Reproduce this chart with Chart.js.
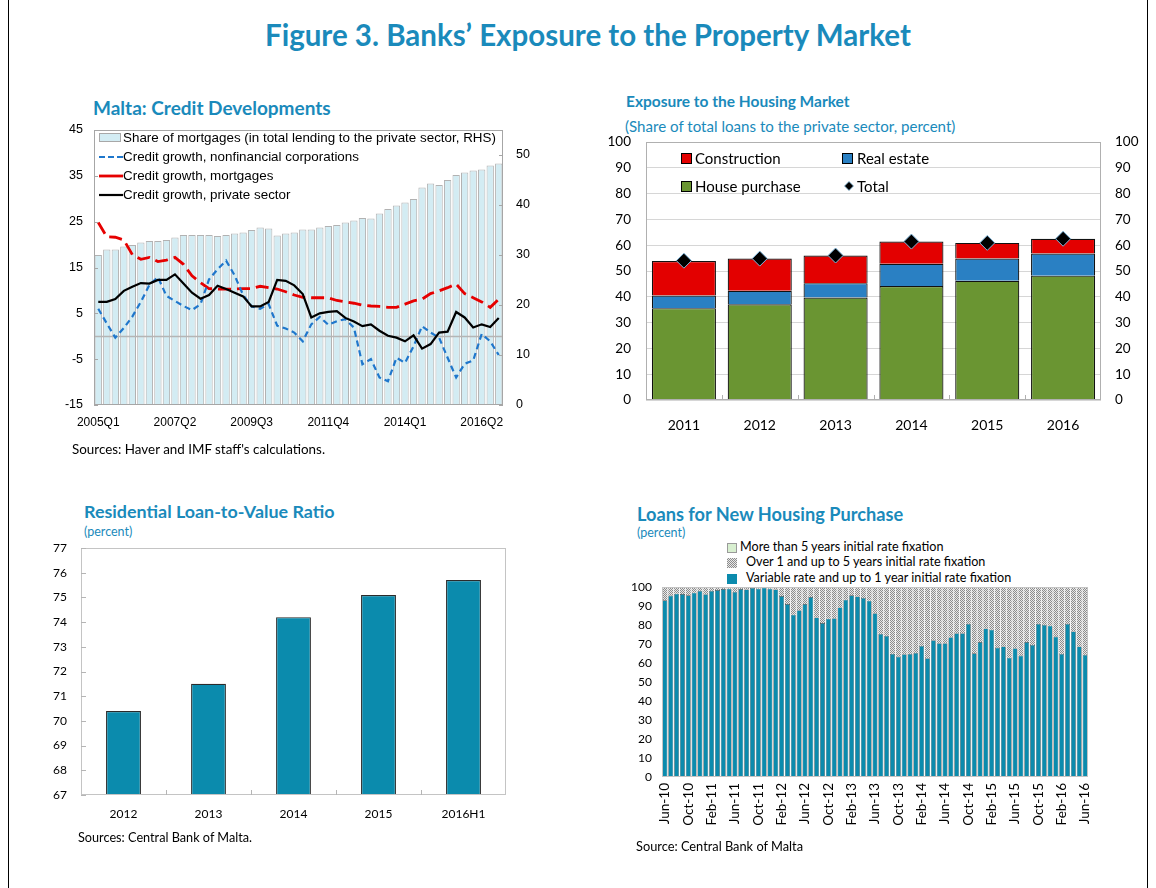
<!DOCTYPE html>
<html>
<head>
<meta charset="utf-8">
<script src="https://cdn.jsdelivr.net/npm/chart.js@4.4.1/dist/chart.umd.min.js"></script>
<style>
  html, body { margin: 0; padding: 0; background: #fff; }
  #page { position: relative; width: 1156px; height: 888px; overflow: hidden; font-family: Lato, 'Open Sans', sans-serif; color: #000; }
  .frame { position: absolute; left: 8px; top: -2px; width: 1138px; height: 900px; border-left: 1px solid #000; border-right: 1px solid #000; }
  .t { position: absolute; white-space: nowrap; line-height: 1; }
  .blue { color: #1a8abb; }
  .b { font-weight: 700; }
  canvas { position: absolute; }
  .row { position: absolute; display: flex; align-items: center; white-space: nowrap; line-height: 1; }
  .box { display: inline-block; box-sizing: border-box; }
</style>
</head>
<body>
<div id="page">
  <div class="frame"></div>

  <div class="t blue b" style="left:265px; top:20px; font-size:29.5px;">Figure 3. Banks’ Exposure to the Property Market</div>

  <!-- top left -->
  <div class="t blue b" style="left:93px; top:98px; font-size:19px;">Malta: Credit Developments</div>
  <canvas id="c1" width="495" height="342" style="left:50px; top:108px;"></canvas>
  <div style="font-family:'Liberation Sans', Arial, sans-serif; font-size:13.4px;">
    <div class="row" style="left:99px; top:130px; height:15px;">
      <span class="box" style="width:22px; height:9px; background:#d3ecf3; border:1px solid #a8a8a8; margin-right:2px;"></span>Share of mortgages (in total lending to the private sector, RHS)</div>
    <div class="row" style="left:99px; top:149px; height:15px;">
      <svg width="24" height="10"><line x1="0" y1="5" x2="24" y2="5" stroke="#1f77cc" stroke-width="2.2" stroke-dasharray="6,3"/></svg>Credit growth, nonfinancial corporations</div>
    <div class="row" style="left:99px; top:168px; height:15px;">
      <svg width="24" height="10"><line x1="0" y1="5" x2="24" y2="5" stroke="#e60000" stroke-width="2.8"/></svg>Credit growth, mortgages</div>
    <div class="row" style="left:99px; top:187px; height:15px;">
      <svg width="24" height="10"><line x1="0" y1="5" x2="24" y2="5" stroke="#000" stroke-width="2.2"/></svg>Credit growth, private sector</div>
  </div>
  <div class="t" style="left:72px; top:443px; font-size:13.4px;">Sources: Haver and IMF staff's calculations.</div>

  <!-- top right -->
  <div class="t blue b" style="left:626px; top:94px; font-size:15.5px;">Exposure to the Housing Market</div>
  <div class="t blue" style="left:625px; top:119px; font-size:15.1px;">(Share of total loans to the private sector, percent)</div>
  <canvas id="c2" width="540" height="318" style="left:600px; top:117px;"></canvas>
  <div style="font-size:15px;">
    <div class="row" style="left:681px; top:150px; height:16px;"><span class="box" style="width:11px; height:11px; background:#e30000; border:1px solid #000; margin-right:3px;"></span>Construction</div>
    <div class="row" style="left:842px; top:150px; height:16px;"><span class="box" style="width:11px; height:11px; background:#2a80c3; border:1px solid #000; margin-right:4px;"></span>Real estate</div>
    <div class="row" style="left:681px; top:178px; height:16px;"><span class="box" style="width:11px; height:11px; background:#6a9532; border:1px solid #000; margin-right:3px;"></span>House purchase</div>
    <div class="row" style="left:843px; top:178px; height:16px;"><svg width="12" height="12" style="margin-right:2px"><polygon points="6,1.5 10.5,6 6,10.5 1.5,6" fill="#000" stroke="#7fb6db" stroke-width="0.8"/></svg>Total</div>
  </div>

  <!-- bottom left -->
  <div class="t blue b" style="left:84px; top:503px; font-size:17.9px;">Residential Loan-to-Value Ratio</div>
  <div class="t blue" style="left:84px; top:526px; font-size:12.5px;">(percent)</div>
  <canvas id="c3" width="480" height="305" style="left:40px; top:525px;"></canvas>
  <div class="t" style="left:78px; top:831px; font-size:12.7px;">Sources: Central Bank of Malta.</div>

  <!-- bottom right -->
  <div class="t blue b" style="left:637px; top:505px; font-size:18.2px;">Loans for New Housing Purchase</div>
  <div class="t blue" style="left:637px; top:527px; font-size:12.5px;">(percent)</div>
  <div style="font-size:12.6px;">
    <div class="row" style="left:727px; top:541px; height:13px;"><span class="box" style="width:10px; height:10px; background:#d8efd0; border:1px solid #9a9a9a; margin-right:3px;"></span>More than 5 years initial rate fixation</div>
    <div class="row" style="left:727px; top:556px; height:13px;"><span class="box" style="width:10px; height:10px; background-image:repeating-conic-gradient(#8c8c8c 0 25%, #e8e8e8 0 50%); background-size:2px 2px; margin-right:9px;"></span>Over 1 and up to 5 years initial rate fixation</div>
    <div class="row" style="left:727px; top:572px; height:13px;"><span class="box" style="width:10px; height:10px; background:#0b8bad; margin-right:9px;"></span>Variable rate and up to 1 year initial rate fixation</div>
  </div>
  <canvas id="c4" width="505" height="272" style="left:610px; top:568px;"></canvas>
  <div class="t" style="left:636px; top:840px; font-size:12.8px;">Source: Central Bank of Malta</div>
</div>

<script>
// ─────────────────────────────────────────────
//  Data
// ─────────────────────────────────────────────

const QUARTERS = [
  '2005Q1','2005Q2','2005Q3','2005Q4','2006Q1','2006Q2','2006Q3','2006Q4',
  '2007Q1','2007Q2','2007Q3','2007Q4','2008Q1','2008Q2','2008Q3','2008Q4',
  '2009Q1','2009Q2','2009Q3','2009Q4','2010Q1','2010Q2','2010Q3','2010Q4',
  '2011Q1','2011Q2','2011Q3','2011Q4','2012Q1','2012Q2','2012Q3','2012Q4',
  '2013Q1','2013Q2','2013Q3','2013Q4','2014Q1','2014Q2','2014Q3','2014Q4',
  '2015Q1','2015Q2','2015Q3','2015Q4','2016Q1','2016Q2','2016Q3','2016Q4'
];
// RHS, percent of lending to private sector
const SHARE_MORTGAGES = [
  30.0, 31.1, 31.1, 31.7, 32.0, 32.5, 32.8, 32.8, 33.0, 33.5, 34.0, 34.0,
  34.0, 34.0, 33.8, 34.0, 34.3, 34.5, 35.0, 35.5, 35.3, 33.9, 34.3, 34.5,
  35.1, 35.1, 35.5, 35.8, 36.0, 36.5, 36.9, 37.4, 37.3, 38.3, 39.2, 39.9,
  40.5, 41.2, 43.5, 44.3, 44.0, 45.0, 46.0, 46.5, 46.9, 47.1, 47.9, 48.3
];
const NFC_GROWTH = [
  6.0, 2.8, -0.3, 1.8, 4.3, 7.5, 11.2, 12.9, 8.8, 7.7, 6.6, 5.7,
  7.0, 12.4, 14.6, 16.5, 13.3, 9.0, 6.5, 6.0, 7.0, 2.3, 1.7, 0.8,
  -1.1, 2.6, 4.2, 2.5, 3.3, 3.7, 1.9, -6.1, -5.0, -9.0, -9.8, -4.7,
  -5.8, -2.2, 2.2, 0.8, -0.3, -4.7, -9.0, -6.0, -5.3, 0.5, -1.1, -4.1
];
const MORTGAGE_GROWTH = [
  24.8, 21.7, 21.6, 21.0, 17.8, 16.8, 17.2, 16.3, 16.6, 17.2, 15.7, 13.2,
  11.7, 10.4, 10.3, 10.3, 10.3, 10.4, 10.4, 10.9, 10.6, 10.3, 9.7, 9.0,
  8.5, 8.4, 8.4, 8.4, 7.8, 7.5, 7.2, 6.8, 6.6, 6.5, 6.3, 6.3,
  7.0, 7.7, 8.1, 9.3, 9.9, 10.6, 11.4, 9.3, 8.4, 7.5, 6.3, 8.1
];
const PRIVATE_GROWTH = [
  7.5, 7.5, 8.1, 9.9, 10.8, 11.6, 11.5, 12.3, 12.3, 13.5, 11.5, 9.5,
  8.2, 9.0, 11.0, 10.3, 9.5, 8.7, 6.5, 6.5, 7.5, 12.3, 12.1, 11.1,
  9.2, 4.1, 5.0, 5.3, 5.5, 4.0, 3.2, 2.2, 2.6, 1.2, 0.1, -0.3,
  -1.1, 0.2, -2.7, -1.7, 0.8, 1.0, 5.3, 4.1, 1.9, 2.6, 2.0, 4.0
];

const YEARS        = ['2011', '2012', '2013', '2014', '2015', '2016'];
const HOUSE        = [35.6, 37.1, 39.7, 44.2, 46.2, 48.2];
const REAL_ESTATE  = [4.9, 5.2, 5.6, 8.6, 8.6, 8.6];
const CONSTRUCTION = [13.4, 12.5, 10.7, 8.6, 6.1, 5.7];
const TOTAL        = [54.0, 54.8, 56.0, 61.4, 60.9, 62.5];

const LTV_LABELS = ['2012', '2013', '2014', '2015', '2016H1'];
const LTV        = [70.4, 71.5, 74.2, 75.1, 75.7];

const MONTHS = [
  'Jun-10','Jul-10','Aug-10','Sep-10','Oct-10','Nov-10','Dec-10','Jan-11','Feb-11','Mar-11','Apr-11','May-11',
  'Jun-11','Jul-11','Aug-11','Sep-11','Oct-11','Nov-11','Dec-11','Jan-12','Feb-12','Mar-12','Apr-12','May-12',
  'Jun-12','Jul-12','Aug-12','Sep-12','Oct-12','Nov-12','Dec-12','Jan-13','Feb-13','Mar-13','Apr-13','May-13',
  'Jun-13','Jul-13','Aug-13','Sep-13','Oct-13','Nov-13','Dec-13','Jan-14','Feb-14','Mar-14','Apr-14','May-14',
  'Jun-14','Jul-14','Aug-14','Sep-14','Oct-14','Nov-14','Dec-14','Jan-15','Feb-15','Mar-15','Apr-15','May-15',
  'Jun-15','Jul-15','Aug-15','Sep-15','Oct-15','Nov-15','Dec-15','Jan-16','Feb-16','Mar-16','Apr-16','May-16',
  'Jun-16'
];
const VARIABLE = [
  93.0, 95.5, 96.5, 96.3, 95.6, 97.0, 98.0, 96.2, 98.0, 98.4, 98.9, 99.1,
  97.4, 98.9, 98.7, 99.5, 99.1, 99.7, 99.1, 98.7, 95.2, 91.0, 85.4, 87.8,
  91.0, 94.7, 84.0, 81.0, 83.3, 83.6, 89.2, 93.3, 95.6, 95.0, 94.2, 92.8,
  86.2, 75.3, 74.3, 64.8, 63.4, 64.6, 64.8, 65.3, 69.0, 62.5, 72.0, 70.4,
  70.4, 73.6, 75.7, 75.7, 80.6, 65.1, 71.0, 78.2, 77.5, 68.1, 68.7, 62.8,
  67.8, 63.9, 71.0, 69.5, 80.6, 80.1, 79.6, 73.9, 64.8, 80.6, 76.6, 68.7,
  64.3
];
const OVER_1_TO_5 = [
  6.7, 4.2, 3.2, 3.4, 4.1, 2.7, 1.7, 3.5, 1.7, 1.3, 0.8, 0.6,
  2.3, 0.8, 1.0, 0.2, 0.6, 0.0, 0.6, 1.0, 4.5, 8.7, 14.3, 11.9,
  8.7, 5.0, 15.7, 18.7, 16.4, 16.1, 10.5, 6.4, 4.1, 4.7, 5.5, 6.9,
  13.5, 24.4, 25.4, 34.9, 36.3, 35.1, 34.9, 34.4, 30.7, 37.2, 27.7, 29.3,
  29.3, 26.1, 24.0, 24.0, 19.1, 34.6, 28.7, 21.5, 22.2, 31.6, 31.0, 36.9,
  31.9, 35.8, 28.7, 30.2, 19.1, 19.6, 20.1, 25.8, 34.9, 19.1, 23.1, 31.0,
  35.4
];
const MORE_THAN_5 = [
  0.3, 0.3, 0.3, 0.3, 0.3, 0.3, 0.3, 0.3, 0.3, 0.3, 0.3, 0.3,
  0.3, 0.3, 0.3, 0.3, 0.3, 0.3, 0.3, 0.3, 0.3, 0.3, 0.3, 0.3,
  0.3, 0.3, 0.3, 0.3, 0.3, 0.3, 0.3, 0.3, 0.3, 0.3, 0.3, 0.3,
  0.3, 0.3, 0.3, 0.3, 0.3, 0.3, 0.3, 0.3, 0.3, 0.3, 0.3, 0.3,
  0.3, 0.3, 0.3, 0.3, 0.3, 0.3, 0.3, 0.3, 0.3, 0.3, 0.3, 0.3,
  0.3, 0.3, 0.3, 0.3, 0.3, 0.3, 0.3, 0.3, 0.3, 0.3, 0.3, 0.3,
  0.3
];

// ─────────────────────────────────────────────
//  Shared setup
// ─────────────────────────────────────────────

const F_ARIAL = "'Liberation Sans', Arial, sans-serif";
const F_UI    = "Lato, 'Open Sans', sans-serif";

Chart.defaults.animation = false;
Chart.defaults.responsive = false;
Chart.defaults.devicePixelRatio = 1;
Chart.defaults.color = '#000';
Chart.defaults.plugins.legend.display = false;
Chart.defaults.plugins.tooltip.enabled = false;

// plot-area outline
const framePlugin = {
  id: 'frame',
  afterDraw(chart, args, opts) {
    const { ctx, chartArea: a } = chart;
    ctx.save();
    ctx.strokeStyle = opts.color || '#aaa';
    ctx.lineWidth = 1;
    ctx.strokeRect(Math.round(a.left) + 0.5, Math.round(a.top) + 0.5,
                   Math.round(a.width) - 1, Math.round(a.height) - 1);
    ctx.restore();
  }
};

// short tick marks pointing into the plot (y ticks, and category bounds on x)
const innerTicksPlugin = {
  id: 'innerTicks',
  afterDraw(chart, args, opts) {
    const { ctx, chartArea: a } = chart;
    const len = opts.len || 5;
    ctx.save();
    ctx.strokeStyle = opts.color || '#9a9a9a';
    ctx.lineWidth = 1;
    ctx.beginPath();
    (opts.y || []).forEach(({ id, side }) => {
      const s = chart.scales[id];
      s.ticks.forEach(t => {
        if (t.label === '') return;
        const py = Math.round(s.getPixelForValue(t.value)) + 0.5;
        const x0 = side === 'left' ? a.left : a.right;
        ctx.moveTo(x0, py);
        ctx.lineTo(x0 + (side === 'left' ? len : -len), py);
      });
    });
    if (opts.xBounds) {
      const s = chart.scales.x;
      for (let i = 0; i < s.ticks.length - 1; i++) {
        const px = Math.round((s.getPixelForValue(i) + s.getPixelForValue(i + 1)) / 2) + 0.5;
        ctx.moveTo(px, a.bottom);
        ctx.lineTo(px, a.bottom - len);
      }
    }
    ctx.stroke();
    ctx.restore();
  }
};

// zero line drawn over the bars but under the lines
const zeroLinePlugin = {
  id: 'zeroLine',
  afterDatasetDraw(chart, args) {
    if (args.index !== 0) return;
    const { ctx, chartArea: a, scales: { y } } = chart;
    const py = Math.round(y.getPixelForValue(0)) + 0.5;
    ctx.save();
    ctx.strokeStyle = '#b5b5b5';
    ctx.lineWidth = 1.5;
    ctx.beginPath();
    ctx.moveTo(a.left, py);
    ctx.lineTo(a.right, py);
    ctx.stroke();
    ctx.restore();
  }
};

const noGrid = { display: false, drawTicks: false };

// NB: the top padding is set a little above what the y tick labels ask for,
// so the plot top lands exactly at canvas top + padding

// ─────────────────────────────────────────────
//  Malta: Credit Developments
// ─────────────────────────────────────────────

new Chart(document.getElementById('c1'), {
  data: {
    labels: QUARTERS,
    datasets: [
      { type: 'bar', data: SHARE_MORTGAGES, yAxisID: 'y2', order: 9,
        backgroundColor: '#d3ecf3', borderColor: '#b2b2b2', borderWidth: 1,
        barPercentage: 0.86, categoryPercentage: 1 },
      { type: 'line', data: MORTGAGE_GROWTH, yAxisID: 'y', order: 3,
        borderColor: '#e60000', borderWidth: 2.8, borderDash: [13, 6], pointRadius: 0, tension: 0 },
      { type: 'line', data: NFC_GROWTH, yAxisID: 'y', order: 2,
        borderColor: '#1f77cc', borderWidth: 2.2, borderDash: [6, 4], pointRadius: 0, tension: 0 },
      { type: 'line', data: PRIVATE_GROWTH, yAxisID: 'y', order: 1,
        borderColor: '#000', borderWidth: 2.2, pointRadius: 0, tension: 0 },
    ]
  },
  options: {
    layout: { padding: { top: 22 } },
    plugins: {
      frame: { color: '#a6a6a6' },
      innerTicks: { y: [{ id: 'y', side: 'left' }, { id: 'y2', side: 'right' }], len: 4, color: '#a6a6a6' }
    },
    scales: {
      x: {
        grid: noGrid, border: { display: false },
        ticks: { autoSkip: false, maxRotation: 0, minRotation: 0, padding: 10,
                 font: { family: F_ARIAL, size: 12 },
                 callback: (v, i) => i % 9 === 0 ? QUARTERS[i] : '' },
        afterFit: s => { s.height = 45; }
      },
      y: {
        position: 'left', min: -15, max: 45,
        grid: noGrid, border: { display: false },
        ticks: { stepSize: 10, padding: 11, font: { family: F_ARIAL, size: 12.5 } },
        afterFit: s => { s.width = 44; }
      },
      y2: {
        position: 'right', min: 0, max: 55,
        grid: noGrid, border: { display: false },
        ticks: { stepSize: 10, padding: 13, font: { family: F_ARIAL, size: 12.5 },
                 callback: v => v <= 50 ? v : '' },
        afterFit: s => { s.width = 42; }
      }
    }
  },
  plugins: [framePlugin, zeroLinePlugin, innerTicksPlugin]
});

// ─────────────────────────────────────────────
//  Exposure to the Housing Market
// ─────────────────────────────────────────────

new Chart(document.getElementById('c2'), {
  data: {
    labels: YEARS,
    datasets: [
      { type: 'line', data: TOTAL, stack: 'total', showLine: false,
        pointStyle: 'rectRot', pointRadius: 7.5, backgroundColor: '#000',
        borderColor: '#7fb6db', borderWidth: 1, order: 0 },
      { type: 'bar', data: HOUSE, backgroundColor: '#6a9532', order: 1 },
      { type: 'bar', data: REAL_ESTATE, backgroundColor: '#2a80c3', order: 1 },
      { type: 'bar', data: CONSTRUCTION, backgroundColor: '#e30000', order: 1 },
    ].map(d => d.type === 'bar'
      ? { ...d, borderColor: '#111', borderWidth: 1.2, barPercentage: 0.845, categoryPercentage: 1 }
      : d)
  },
  options: {
    layout: { padding: { top: 25 } },
    plugins: {
      frame: { color: '#b0b0b0' },
      innerTicks: { xBounds: true, len: 5, color: '#b0b0b0' }
    },
    scales: {
      x: {
        stacked: true, grid: noGrid, border: { display: false },
        ticks: { padding: 17, font: { family: F_UI, size: 14 } },
        afterFit: s => { s.height = 35; }
      },
      y: {
        stacked: true, min: 0, max: 100,
        grid: { color: '#d6d6d6', drawTicks: false }, border: { display: false },
        ticks: { stepSize: 10, padding: 15, font: { family: F_UI, size: 13.5 } },
        afterFit: s => { s.width = 46; }
      },
      y2: {
        position: 'right', min: 0, max: 100,
        grid: noGrid, border: { display: false },
        ticks: { stepSize: 10, padding: 14, font: { family: F_UI, size: 13.5 } },
        afterFit: s => { s.width = 39; }
      }
    }
  },
  plugins: [framePlugin, innerTicksPlugin]
});

// ─────────────────────────────────────────────
//  Residential Loan-to-Value Ratio
// ─────────────────────────────────────────────

new Chart(document.getElementById('c3'), {
  type: 'bar',
  data: {
    labels: LTV_LABELS,
    datasets: [{
      data: LTV, backgroundColor: '#0b8bad', borderColor: '#2b2b2b', borderWidth: 1.2,
      barPercentage: 0.41, categoryPercentage: 1
    }]
  },
  options: {
    layout: { padding: { top: 23, right: 14 } },
    plugins: {
      frame: { color: '#c4c4c4' },
      innerTicks: { y: [{ id: 'y', side: 'left' }], xBounds: true, len: 5, color: '#b5b5b5' }
    },
    scales: {
      x: {
        grid: noGrid, border: { display: false },
        ticks: { padding: 12, font: { family: F_UI, size: 12 } },
        afterFit: s => { s.height = 35; }
      },
      y: {
        min: 67, max: 77,
        grid: noGrid, border: { display: false },
        ticks: { stepSize: 1, padding: 14, font: { family: F_UI, size: 12 } },
        afterFit: s => { s.width = 41; }
      }
    }
  },
  plugins: [framePlugin, innerTicksPlugin]
});

// ─────────────────────────────────────────────
//  Loans for New Housing Purchase
// ─────────────────────────────────────────────

const c4 = document.getElementById('c4');
function stipple(ctx) {
  const t = document.createElement('canvas');
  t.width = 2; t.height = 2;
  const g = t.getContext('2d');
  g.fillStyle = '#e8e8e8'; g.fillRect(0, 0, 2, 2);
  g.fillStyle = '#8c8c8c'; g.fillRect(0, 0, 1, 1); g.fillRect(1, 1, 1, 1);
  return ctx.createPattern(t, 'repeat');
}

new Chart(c4, {
  type: 'bar',
  data: {
    labels: MONTHS,
    datasets: [
      { data: VARIABLE,    backgroundColor: '#0b8bad', borderColor: '#4a4a4a', borderWidth: 0.6 },
      { data: OVER_1_TO_5, backgroundColor: stipple(c4.getContext('2d')), borderWidth: 0 },
      { data: MORE_THAN_5, backgroundColor: '#d8efd0', borderWidth: 0 },
    ].map(d => ({ ...d, barPercentage: 0.86, categoryPercentage: 1 }))
  },
  options: {
    layout: { padding: { top: 19, right: 27 } },
    plugins: { frame: { color: '#c4c4c4' } },
    scales: {
      x: {
        stacked: true, grid: noGrid, border: { display: false },
        ticks: { autoSkip: false, minRotation: 90, maxRotation: 90, padding: 6,
                 font: { family: F_UI, size: 13.5 },
                 callback: (v, i) => i % 4 === 0 ? MONTHS[i] : '' },
        afterFit: s => { s.height = 63; }
      },
      y: {
        stacked: true, min: 0, max: 100,
        grid: noGrid, border: { display: false },
        ticks: { stepSize: 10, padding: 10, font: { family: F_UI, size: 12 } },
        afterFit: s => { s.width = 52; }
      }
    }
  },
  plugins: [framePlugin]
});
</script>
</body>
</html>
